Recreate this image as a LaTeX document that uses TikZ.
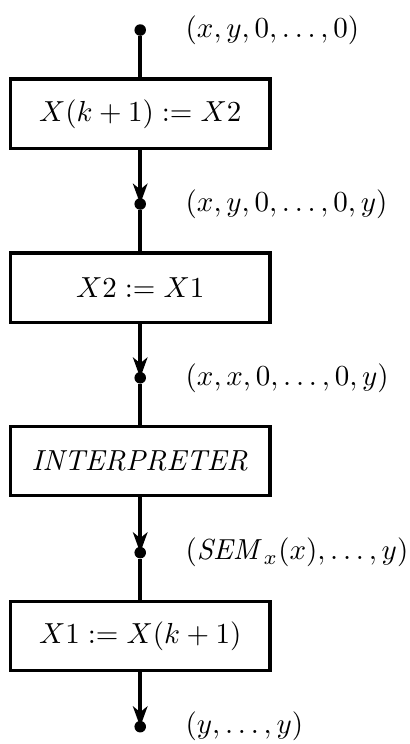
\documentclass[tikz,border=0pt]{standalone}
\usepackage{amssymb}
\usepackage{amsmath}
\usepackage{tikz}
\usetikzlibrary{arrows.meta}

\begin{document}
\begin{tikzpicture}
		\tikzset{vertex/.style = {shape=circle, fill=black, inner sep=0pt, minimum size=0.14cm}}
		\tikzset{every label/.style = {xshift=0.35cm}}
		\tikzset{box/.style = {shape=rectangle, draw, very thick, minimum width=3.15cm, minimum height=0.84cm}}
		\tikzset{wire/.style = {very thick}}
		\tikzset{edge/.style = {very thick, -{Stealth[length=7pt, width=5pt, inset=2pt]}}}

		\useasboundingbox (0,0) rectangle (4.96,-9.02);

		\node[vertex, label=right:{$(x,y,0,\ldots,0)$}] (D_1) at (1.7,-0.364) {};
		\node[vertex, label=right:{$(x,y,0,\ldots,0,y)$}] (D_2) at (1.7,-2.473) {};
		\node[vertex, label=right:{$(x,x,0,\ldots,0,y)$}] (D_3) at (1.7,-4.58) {};
		\node[vertex, label=right:{$(\mathit{SEM}_x(x),\ldots,y)$}] (D_4) at (1.7,-6.70) {};
		\node[vertex, label=right:{$(y,\ldots,y)$}] (D_5) at (1.7,-8.81) {};

		\node[box] (B_1) at (1.7,-1.38) {$X(k+1) := X2$};
		\node[box] (B_2) at (1.7,-3.49) {$X2 := X1$};
		\node[box] (B_3) at (1.7,-5.59) {$\mathit{INTERPRETER}$};
		\node[box] (B_4) at (1.7,-7.71) {$X1 := X(k+1)$};

		\draw[wire] (D_1) to (B_1);
		\draw[edge] (B_1) to (D_2.center);
		\draw[wire] (D_2) to (B_2);
		\draw[edge] (B_2) to (D_3.center);
		\draw[wire] (D_3) to (B_3);
		\draw[edge] (B_3) to (D_4.center);
		\draw[wire] (D_4) to (B_4);
		\draw[edge] (B_4) to (D_5.center);

	\end{tikzpicture}
\end{document}
